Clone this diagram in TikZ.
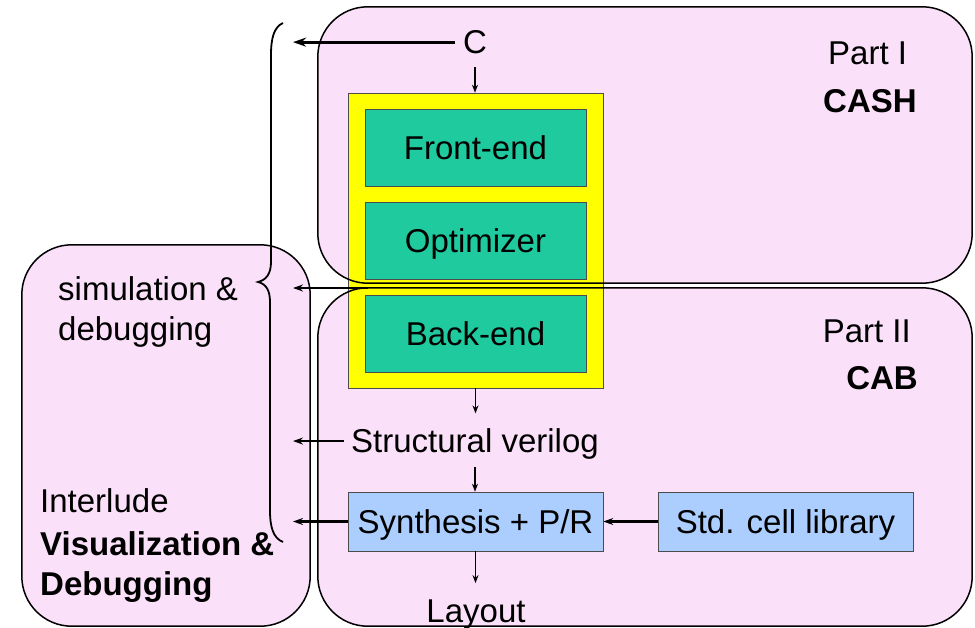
\documentclass[tikz,border=0pt]{standalone}
\usepackage{fontspec}
\setmainfont{Liberation Sans}
\usetikzlibrary{arrows.meta}
\definecolor{pinkbg}{RGB}{250,224,248}
\definecolor{tealbox}{RGB}{30,202,158}
\definecolor{bluebox}{RGB}{172,206,255}
\definecolor{yellowbox}{RGB}{255,255,0}

\begin{document}
\begin{tikzpicture}[x=1pt,y=-1pt,
  font=\fontsize{33}{40}\selectfont,
  regionfill/.style={fill=pinkbg, draw=none, inner sep=0pt, rounded corners=50pt},
  regionline/.style={draw=black, line width=1.5pt, rounded corners=50pt},
  stage/.style={draw=black!70, line width=0.6pt, fill=tealbox, minimum width=221pt,
    minimum height=77pt, inner sep=0pt, text height=24pt, text depth=0pt},
  tool/.style={draw=black!70, line width=0.6pt, fill=bluebox, minimum width=255pt,
    minimum height=59pt, inner sep=0pt, text height=24pt, text depth=0pt},
  label/.style={inner sep=0pt},
  hflow/.style={line width=2.4pt, -{Stealth[length=10pt,width=7pt]}},
  bigflow/.style={line width=3pt, -{Stealth[length=13pt,width=9pt]}},
  vflow/.style={line width=1.3pt, -{Stealth[length=8pt,width=6pt]}}]

\useasboundingbox (0,0) rectangle (975,627);

% region backgrounds
\node[regionfill, minimum width=654pt, minimum height=276pt] (part1) at (645,145) {};
\node[regionfill, minimum width=654pt, minimum height=338pt] (part2) at (645,457) {};
\node[regionfill, minimum width=288pt, minimum height=381pt] (interlude) at (166,435.5) {};
\draw[regionline] (interlude.north west) rectangle (interlude.south east);

% compiler: yellow frame with its three stages
\node[draw=black!70, line width=0.6pt, fill=yellowbox, minimum width=255pt,
  minimum height=295pt, inner sep=0pt] (yellow) at (475.5,240.5) {};
\node[stage] (front) at (475.5,147.5) {Front-end};
\node[stage] (opt) at (475.5,240.5) {Optimizer};
\node[stage] (back) at (475.5,333.5) {Back-end};

% region outlines on top
\draw[regionline] (part1.north west) rectangle (part1.south east);
\draw[regionline] (part2.north west) rectangle (part2.south east);

% region titles
\node[label, anchor=base west] (p1) at (828,64) {Part I};
\node[label, anchor=base west, font=\fontsize{33}{40}\selectfont\bfseries] (cash) at (823,112) {CASH};
\node[label, anchor=base east] (p2) at (911,342) {Part II};
\node[label, anchor=base east, font=\fontsize{33}{40}\selectfont\bfseries] (cab) at (918,389) {CAB};
\node[label, anchor=base west] (il1) at (40,512) {Interlude};
\node[label, anchor=base west, font=\fontsize{33}{40}\selectfont\bfseries] (il2) at (40,555) {Visualization \&};
\node[label, anchor=base west, font=\fontsize{33}{40}\selectfont\bfseries] (il3) at (40,595) {Debugging};
\node[label, anchor=base west] (sim1) at (58,300) {simulation \&};
\node[label, anchor=base west] (sim2) at (58,340) {debugging};

% flow items
\node[anchor=base, inner xsep=8pt, inner ysep=0pt] (C) at (475,53.5) {C};
\node[anchor=base, inner xsep=7pt, inner ysep=0pt, text height=24.4pt, text depth=2.5pt] (SV) at (475,452) {Structural verilog};
\node[tool] (synth) at (475.5,521.5) {Synthesis + P/R};
\node[tool] (std) at (785.5,521.5) {Std. cell library};
\node[anchor=base, inner sep=0pt] (layout) at (476,622) {Layout};

% brace gathering the debugged artefacts
\draw[line width=1.8pt] (283,23) .. controls (274,27) and (271,38) .. (271,55)
  -- (271,262) .. controls (271,274) and (266,280) .. (258,282)
  .. controls (266,284) and (270,290) .. (270,302)
  -- (270,510) .. controls (270,527) and (273,538) .. (283,542);

% arrow ends at the brace
\coordinate (tipx) at (293,0);
\coordinate (simsrc) at (368,288);

\draw[bigflow] (C.west) -- (C.west -| tipx);
\draw[hflow] (simsrc) -- (simsrc -| tipx);
\draw[hflow] (SV.west) -- (SV.west -| tipx);
\draw[hflow] (synth.west) -- (synth.west -| tipx);
\draw[hflow] (std.west) -- (synth.east);

\draw[vflow, shorten <=13pt] (C.south) -- (C.south |- yellow.north);
\draw[vflow, shorten >=14pt] (yellow.south) -- (yellow.south |- SV.north);
\draw[vflow, shorten <=12pt] (SV.south) -- (SV.south |- synth.north);
\draw[vflow, shorten >=16pt] (synth.south) -- (synth.south |- layout.north);
\end{tikzpicture}
\end{document}
